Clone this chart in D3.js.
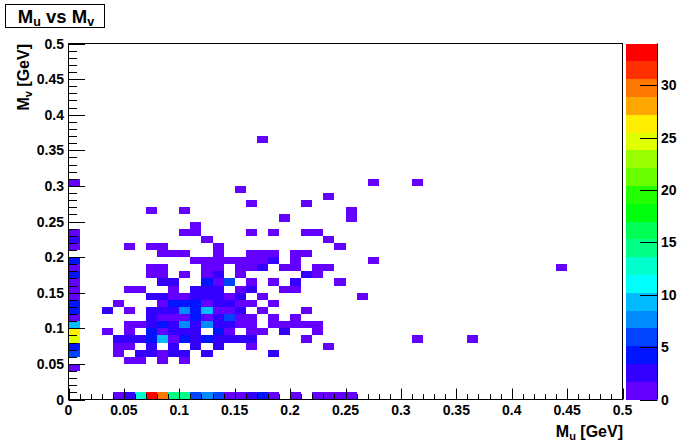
<!DOCTYPE html>
<html><head><meta charset="utf-8">
<script src="https://cdn.jsdelivr.net/npm/d3@7"></script>
<style>body{margin:0;background:#fff}svg{display:block}</style>
</head><body>
<svg id="c" width="692" height="444"></svg>
<script>
// ---- data: bin centres (GeV) of the filled 0.01 x 0.01 bins, and their counts ----
const mvRows = [0.005,0.045,0.055,0.065,0.075,0.085,0.095,0.105,0.115,0.125,0.135,0.145,0.155,0.165,0.175,0.185,0.195,0.205,0.215,0.225,0.235,0.245,0.255,0.265,0.275,0.285,0.295,0.305,0.365];
const muByRow = [
 [.045,.055,.065,.075,.085,.095,.105,.115,.125,.135,.145,.155,.165,.175,.185,.205,.225,.235,.245,.255],
 [.005],
 [.055,.065,.085,.105],
 [.005,.045,.065,.075,.085,.095,.105,.125,.185],
 [.005,.045,.055,.075,.095,.115,.135,.165,.235],
 [.005,.045,.055,.065,.075,.085,.095,.105,.115,.125,.135,.145,.155,.165,.215,.315,.365],
 [.005,.035,.055,.075,.085,.095,.105,.115,.135,.145,.165,.175,.195,.225],
 [.005,.055,.065,.075,.085,.095,.105,.115,.125,.135,.145,.155,.165,.185,.195,.205,.215,.225],
 [.005,.075,.085,.095,.105,.115,.125,.135,.145,.155,.165,.185,.205],
 [.005,.035,.055,.075,.085,.095,.105,.115,.125,.135,.145,.155,.175,.215],
 [.005,.045,.085,.095,.105,.115,.125,.135,.145,.155,.165,.185],
 [.005,.075,.085,.095,.105,.115,.125,.135,.145,.155,.175,.265],
 [.005,.055,.065,.095,.115,.125,.135,.155,.165,.195,.205],
 [.005,.085,.095,.125,.135,.145,.165,.185,.205,.245],
 [.005,.075,.085,.105,.125,.135,.155,.215,.225],
 [.005,.075,.085,.125,.135,.155,.165,.175,.195,.205,.225,.235,.445],
 [.005,.115,.125,.135,.145,.155,.165,.175,.185,.205,.275],
 [.085,.095,.105,.135,.165,.175,.185,.205,.215],
 [.005,.055,.075,.085,.135,.245],
 [.005,.125,.235],
 [.005,.105,.115,.165,.185,.215,.225],
 [.115],
 [.195,.255],
 [.075,.105,.255],
 [.165,.215],
 [.235],
 [.155],
 [.005,.275,.315],
 [.175]
];
const countByRow = [
 [1,2,12,33,29,14,14,6,8,6,1,1,2,4,1,1,1,1,1,1],
 [1],
 [1,1,1,1],
 [6,1,2,2,1,2,2,2,2],
 [4,1,1,2,2,2,2,1,1],
 [24,2,2,2,4,9,1,4,2,4,2,2,2,2,1,1,1],
 [26,1,1,4,1,2,2,2,4,1,1,1,2,1],
 [9,1,1,2,4,2,7,2,8,2,2,1,1,1,1,1,1,1],
 [1,2,1,1,1,4,1,2,6,1,1,1,1],
 [4,2,1,2,2,2,8,4,9,1,1,2,1,1],
 [4,1,1,4,4,4,1,2,2,1,1,1],
 [1,2,2,1,1,2,2,2,1,2,1,1],
 [1,1,1,1,2,2,2,1,2,1,1],
 [1,2,2,4,1,6,1,1,2,1],
 [4,1,1,1,1,2,1,2,1],
 [1,1,1,1,1,1,1,2,1,1,1,1,1],
 [4,1,1,1,1,1,1,1,2,1,1],
 [1,1,1,1,1,1,1,1,1],
 [1,1,1,1,1,1],
 [2,1,1],
 [1,1,1,1,1,1,1],
 [1],
 [1,1],
 [1,1,1],
 [1,1],
 [1],
 [1],
 [1,1,1],
 [1]
];
const binWidth = 0.01;
const axisTicks = [0,0.05,0.1,0.15,0.2,0.25,0.3,0.35,0.4,0.45,0.5];
const axisTickLabels = ["0","0.05","0.1","0.15","0.2","0.25","0.3","0.35","0.4","0.45","0.5"];
const minorTicks = d3.range(0,51).map(i=>i/100);
const zTicks = [0,5,10,15,20,25,30];
const zMax = 34, nLevels = 20;

const cells = [];
mvRows.forEach((v,r)=>muByRow[r].forEach((u,j)=>cells.push({u, v, n: countByRow[r][j]})));

// ---- drawing ----
const svg = d3.select("#c");
const FONT = "'Liberation Sans', Arial, Helvetica, sans-serif";
svg.append("rect").attr("width",692).attr("height",444).attr("fill","#fff");

const x = d3.scaleLinear([0,0.5],[68.5,622.5]);
const y = d3.scaleLinear([0,0.5],[399.5,43.5]);
const z = d3.scaleLinear([0,zMax],[399.5,43.5]);

function levelColor(j){
  const idx = Math.floor((j+0.99)*50/nLevels);
  const hue = 280 - (idx+1)*5.6;
  return d3.hsl(hue,1,0.5).formatHex();
}
const dz = zMax/nLevels;
const colorOf = n => levelColor(Math.min(nLevels-1, Math.floor(n/dz)));

// cells
svg.append("g").attr("shape-rendering","crispEdges").selectAll("rect").data(cells).join("rect")
  .attr("x",d=>x(d.u-binWidth/2))
  .attr("y",d=>y(d.v+binWidth/2))
  .attr("width",d=>x(d.u+binWidth/2)-x(d.u-binWidth/2))
  .attr("height",d=>y(d.v-binWidth/2)-y(d.v+binWidth/2))
  .attr("fill",d=>colorOf(d.n));

// frame
svg.append("rect").attr("x",68.5).attr("y",43.5).attr("width",554).attr("height",356)
  .attr("fill","none").attr("stroke","#000").attr("stroke-width",1);

const isMajor = t => Math.abs(t*20 - Math.round(t*20))<1e-6;
// x ticks
svg.append("g").selectAll("line").data(minorTicks).join("line")
  .attr("x1",d=>Math.round(x(d))+0.5).attr("x2",d=>Math.round(x(d))+0.5)
  .attr("y1",399.5).attr("y2",d=>isMajor(d)?388.5:394)
  .attr("stroke","#000");
// y ticks
svg.append("g").selectAll("line").data(minorTicks).join("line")
  .attr("y1",d=>Math.round(y(d))+0.5).attr("y2",d=>Math.round(y(d))+0.5)
  .attr("x1",68.5).attr("x2",d=>isMajor(d)?85:77)
  .attr("stroke","#000");

// palette
const bands = d3.range(nLevels);
svg.append("g").attr("shape-rendering","crispEdges").selectAll("rect").data(bands).join("rect")
  .attr("x",626).attr("width",31)
  .attr("y",d=>z((d+1)*dz)).attr("height",d=>z(d*dz)-z((d+1)*dz))
  .attr("fill",d=>levelColor(d));
svg.append("line").attr("x1",657.5).attr("x2",657.5).attr("y1",43.5).attr("y2",399.5).attr("stroke","#000");
svg.append("g").selectAll("line").data(zTicks).join("line")
  .attr("x1",640).attr("x2",657.5)
  .attr("y1",d=>Math.round(z(d))+0.5).attr("y2",d=>Math.round(z(d))+0.5).attr("stroke","#000");

// title box (drawn before texts)
svg.append("rect").attr("x",5.5).attr("y",4.5).attr("width",99).attr("height",23).attr("fill","#fff").attr("stroke","#000");

const lab = svg.append("g").attr("font-family",FONT).attr("font-weight","bold").attr("font-size",14).attr("fill","#000");
lab.selectAll(".xl").data(axisTicks).join("text").attr("class","xl")
  .attr("x",d=>x(d)).attr("y",415).attr("text-anchor","middle").text((d,i)=>axisTickLabels[i]);
lab.selectAll(".yl").data(axisTicks).join("text").attr("class","yl")
  .attr("x",64).attr("y",d=>y(d)+5).attr("text-anchor","end").text((d,i)=>axisTickLabels[i]);
lab.selectAll(".zl").data(zTicks).join("text").attr("class","zl")
  .attr("x",661).attr("y",d=>z(d)+5).attr("text-anchor","start").text(d=>d);

// axis titles
const xt = lab.append("text").attr("x",623).attr("y",437).attr("text-anchor","end").attr("font-size",16);
xt.append("tspan").text("M");
xt.append("tspan").attr("font-size",11).attr("dy",3).text("u");
xt.append("tspan").attr("dy",-3).text(" [GeV]");

const yt = lab.append("text").attr("transform","translate(29,44) rotate(-90)").attr("text-anchor","end").attr("font-size",16);
yt.append("tspan").text("M");
yt.append("tspan").attr("font-size",11).attr("dy",3).text("v");
yt.append("tspan").attr("dy",-3).text(" [GeV]");

const tt = lab.append("text").attr("x",56).attr("y",23).attr("text-anchor","middle").attr("font-size",18.5);
tt.append("tspan").text("M");
tt.append("tspan").attr("font-size",12.5).attr("dy",3).text("u");
tt.append("tspan").attr("dy",-3).text(" vs M");
tt.append("tspan").attr("font-size",12.5).attr("dy",3).text("v");
</script>
</body></html>
